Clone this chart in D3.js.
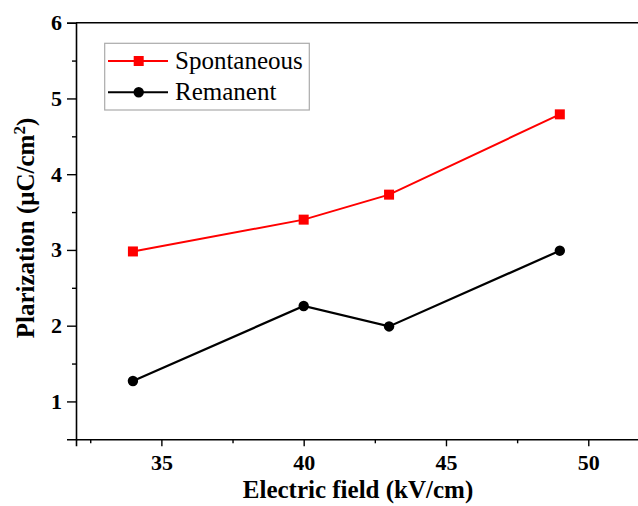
<!DOCTYPE html>
<html>
<head>
<meta charset="utf-8">
<script src="https://cdn.jsdelivr.net/npm/d3@7"></script>
<style>
  html, body { margin: 0; padding: 0; background: #fff; }
  svg { display: block; }
</style>
</head>
<body>
<svg id="chart" width="638" height="506"></svg>
<script>
// Applied electric field (kV/cm)
const fields = [34, 40, 43, 49];
// Spontaneous polarization (µC/cm²)
const spontaneous = [2.98, 3.40, 3.73, 4.79];
// Remanent polarization (µC/cm²)
const remanent = [1.27, 2.26, 1.99, 2.99];
const xTicks = [35, 40, 45, 50];
const yTicks = [1, 2, 3, 4, 5, 6];
const seriesNames = ["Spontaneous", "Remanent"];

(function draw() {
  const svg = d3.select("#chart");
  const W = 638;
  const plotLeft = 76, plotTop = 22.7, plotBottom = 439.3, plotRight = 645.2;
  const font = "Liberation Serif, Times New Roman, serif";

  const x = d3.scaleLinear().domain([32, 52]).range([plotLeft, plotRight]);
  const y = d3.scaleLinear().domain([0.5, 6]).range([plotBottom, plotTop]);

  // Minor ticks
  const xMinor = d3.range(32.5, 52, 5);
  const yMinor = d3.range(1.5, 6, 1);

  const axisG = svg.append("g");

  // X axis
  axisG.append("g").attr("transform", `translate(0,${plotBottom})`)
    .call(d3.axisBottom(x).tickValues(xTicks).tickSize(7).tickPadding(8).tickFormat(d3.format("d")));
  axisG.append("g").attr("transform", `translate(0,${plotBottom})`)
    .call(d3.axisBottom(x).tickValues(xMinor).tickSize(4).tickFormat(""))
    .call(g => g.select(".domain").remove());

  // Y axis
  axisG.append("g").attr("transform", `translate(${plotLeft},0)`)
    .call(d3.axisLeft(y).tickValues(yTicks).tickSize(9).tickPadding(5).tickFormat(d3.format("d")));
  axisG.append("g").attr("transform", `translate(${plotLeft},0)`)
    .call(d3.axisLeft(y).tickValues(yMinor).tickSize(4).tickFormat(""))
    .call(g => g.select(".domain").remove());

  axisG.selectAll(".domain").attr("stroke", "#000").attr("stroke-width", 1.6);
  axisG.selectAll(".tick line").attr("stroke", "#000").attr("stroke-width", 1.4);
  axisG.selectAll(".tick text")
    .style("font-family", font).style("font-weight", "bold").style("font-size", "22px").attr("fill", "#000");

  // Top frame line
  svg.append("line")
    .attr("x1", plotLeft).attr("x2", W).attr("y1", plotTop).attr("y2", plotTop)
    .attr("stroke", "#000").attr("stroke-width", 1.6);

  // Series lines and markers
  const line = d3.line().x(d => x(d[0])).y(d => y(d[1]));
  const spData = fields.map((f, i) => [f, spontaneous[i]]);
  const reData = fields.map((f, i) => [f, remanent[i]]);

  svg.append("path").datum(spData).attr("d", line)
    .attr("fill", "none").attr("stroke", "#ff0000").attr("stroke-width", 2);
  svg.append("path").datum(reData).attr("d", line)
    .attr("fill", "none").attr("stroke", "#000").attr("stroke-width", 2.2);

  const sq = 10;
  svg.append("g").selectAll("rect").data(spData).join("rect")
    .attr("x", d => x(d[0]) - sq / 2).attr("y", d => y(d[1]) - sq / 2)
    .attr("width", sq).attr("height", sq).attr("fill", "#ff0000");
  svg.append("g").selectAll("circle").data(reData).join("circle")
    .attr("cx", d => x(d[0])).attr("cy", d => y(d[1])).attr("r", 5.2).attr("fill", "#000");

  // Legend
  const lg = svg.append("g");
  lg.append("rect").attr("x", 104.7).attr("y", 43.3).attr("width", 204.6).attr("height", 66.7)
    .attr("fill", "#fff").attr("stroke", "#aaa").attr("stroke-width", 1.2);
  const legendRows = [
    { name: seriesNames[0], color: "#ff0000", y: 61, shape: "square" },
    { name: seriesNames[1], color: "#000", y: 92.3, shape: "circle" }
  ];
  legendRows.forEach(r => {
    lg.append("line").attr("x1", 108).attr("x2", 168).attr("y1", r.y).attr("y2", r.y)
      .attr("stroke", r.color).attr("stroke-width", 2);
    if (r.shape === "square") {
      lg.append("rect").attr("x", 138.7 - sq / 2).attr("y", r.y - sq / 2)
        .attr("width", sq).attr("height", sq).attr("fill", r.color);
    } else {
      lg.append("circle").attr("cx", 138.7).attr("cy", r.y).attr("r", 5.2).attr("fill", r.color);
    }
    lg.append("text").attr("x", 175).attr("y", r.y + 8)
      .style("font-family", font).style("font-size", "25px").attr("fill", "#000").text(r.name);
  });

  // Axis titles
  svg.append("text")
    .attr("x", 358).attr("y", 498).attr("text-anchor", "middle")
    .style("font-family", font).style("font-weight", "bold").style("font-size", "25px")
    .text("Electric field (kV/cm)");

  const yt = svg.append("text")
    .attr("transform", "translate(34,228) rotate(-90)")
    .attr("text-anchor", "middle")
    .style("font-family", font).style("font-weight", "bold").style("font-size", "25px");
  yt.append("tspan").text("Plarization (μC/cm");
  yt.append("tspan").attr("dy", -9).style("font-size", "17px").text("2");
  yt.append("tspan").attr("dy", 9).text(")");
})();
</script>
</body>
</html>
